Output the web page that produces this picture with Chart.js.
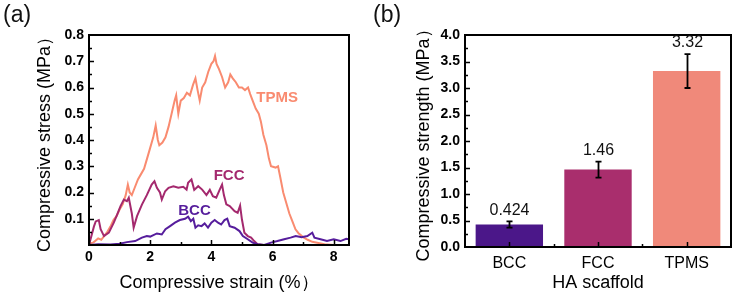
<!DOCTYPE html>
<html>
<head>
<meta charset="utf-8">
<script src="https://cdn.jsdelivr.net/npm/chart.js@4.4.1/dist/chart.umd.min.js"></script>
<style>
  body { margin: 0; background: #fff; }
  #wrap { position: relative; width: 734px; height: 295px; }
  canvas { position: absolute; top: 0; }
  .tag { position: absolute; top: 1px; font: 23px Arial, "Liberation Sans", sans-serif; color: #111; }
</style>
</head>
<body>
<div id="wrap">
  <canvas id="curves" width="367" height="295" style="left:0"></canvas>
  <canvas id="bars" width="367" height="295" style="left:367px"></canvas>
  <div class="tag" style="left:3px">(a)</div>
  <div class="tag" style="left:373px">(b)</div>
</div>
<script>
// (a) stress-strain curves
const strainTPMS = [0, 0.15, 0.3, 0.4, 0.5, 0.6, 0.7, 0.8, 0.9, 1.0, 1.1, 1.2, 1.27, 1.33, 1.4, 1.5, 1.6, 1.7, 1.8, 1.9, 2.0, 2.1, 2.18, 2.25, 2.3, 2.4, 2.5, 2.6, 2.7, 2.8, 2.85, 2.92, 3.0, 3.1, 3.2, 3.3, 3.4, 3.48, 3.55, 3.62, 3.7, 3.8, 3.9, 4.0, 4.07, 4.12, 4.17, 4.25, 4.35, 4.45, 4.55, 4.62, 4.7, 4.8, 4.9, 5.0, 5.1, 5.2, 5.27, 5.35, 5.45, 5.55, 5.62, 5.7, 5.8, 5.88, 5.95, 6.1, 6.18, 6.25, 6.35, 6.45, 6.55, 6.65, 6.75, 6.85, 7.0, 7.15, 7.3, 7.5, 7.7, 8.0, 8.5];
const stressTPMS = [0.005, 0.01, 0.025, 0.02, 0.035, 0.05, 0.07, 0.095, 0.11, 0.135, 0.155, 0.19, 0.23, 0.2, 0.19, 0.22, 0.25, 0.27, 0.29, 0.33, 0.37, 0.41, 0.455, 0.4, 0.38, 0.39, 0.41, 0.45, 0.5, 0.55, 0.57, 0.5, 0.55, 0.56, 0.58, 0.57, 0.61, 0.635, 0.59, 0.55, 0.6, 0.62, 0.66, 0.69, 0.7, 0.72, 0.69, 0.67, 0.64, 0.6, 0.62, 0.65, 0.635, 0.62, 0.6, 0.6, 0.59, 0.6, 0.575, 0.55, 0.52, 0.5, 0.47, 0.42, 0.38, 0.33, 0.3, 0.295, 0.3, 0.26, 0.2, 0.16, 0.12, 0.09, 0.06, 0.045, 0.03, 0.02, 0.012, 0.008, 0.003, 0, 0];

const strainFCC = [0, 0.16, 0.22, 0.32, 0.38, 0.49, 0.65, 0.81, 0.92, 1.03, 1.14, 1.24, 1.3, 1.4, 1.46, 1.57, 1.73, 1.89, 2.05, 2.14, 2.22, 2.32, 2.38, 2.49, 2.6, 2.76, 2.92, 3.08, 3.19, 3.24, 3.35, 3.44, 3.57, 3.7, 3.84, 3.95, 4.05, 4.16, 4.27, 4.35, 4.41, 4.49, 4.6, 4.76, 4.86, 4.94, 5.0, 5.08, 5.19, 5.3, 5.4, 5.51, 5.7];
const stressFCC = [0, 0.07, 0.09, 0.095, 0.06, 0.034, 0.047, 0.085, 0.116, 0.148, 0.173, 0.167, 0.18, 0.12, 0.066, 0.11, 0.154, 0.19, 0.23, 0.243, 0.218, 0.2, 0.173, 0.205, 0.218, 0.224, 0.218, 0.222, 0.211, 0.237, 0.25, 0.21, 0.224, 0.211, 0.19, 0.21, 0.186, 0.18, 0.21, 0.23, 0.19, 0.155, 0.148, 0.129, 0.123, 0.15, 0.097, 0.047, 0.034, 0.028, 0.015, 0.003, 0];

const strainBCC = [0, 0.3, 0.7, 1.0, 1.24, 1.51, 1.73, 1.89, 2.0, 2.22, 2.38, 2.5, 2.65, 2.81, 2.97, 3.14, 3.24, 3.33, 3.41, 3.48, 3.57, 3.68, 3.78, 3.89, 4.0, 4.11, 4.22, 4.32, 4.43, 4.52, 4.6, 4.76, 4.92, 5.03, 5.19, 5.35, 5.51, 5.73, 5.95, 6.16, 6.38, 6.59, 6.76, 6.95, 7.14, 7.3, 7.37, 7.57, 7.78, 8.0, 8.22, 8.41, 8.5];
const stressBCC = [0, 0.003, 0.002, 0.005, 0.011, 0.015, 0.028, 0.034, 0.032, 0.044, 0.04, 0.06, 0.072, 0.085, 0.095, 0.1, 0.108, 0.091, 0.1, 0.066, 0.075, 0.072, 0.082, 0.066, 0.085, 0.095, 0.085, 0.078, 0.095, 0.1, 0.072, 0.066, 0.053, 0.034, 0.022, 0.009, 0.003, 0, 0.009, 0.015, 0.022, 0.028, 0.034, 0.03, 0.034, 0.047, 0.028, 0.022, 0.015, 0.022, 0.015, 0.024, 0.022];

// (b) compressive strength per scaffold
const scaffolds = ['BCC', 'FCC', 'TPMS'];
const strength = [0.424, 1.46, 3.32];
const strengthErr = [0.06, 0.15, 0.32];
const strengthText = ['0.424', '1.46', '3.32'];

const FONT = 'Arial, "Liberation Sans", sans-serif';
const COLORS = { BCC: '#561d9c', FCC: '#a4296e', TPMS: '#f98b70' };
const BAR_COLORS = ['#4b1789', '#a92e6d', '#f0897a'];

Chart.defaults.font.family = FONT;
Chart.defaults.color = '#000';

const toPoints = (xs, ys) => xs.map((x, i) => ({ x, y: ys[i] }));

// box frame + inward major/minor ticks
const axisFrame = {
    id: 'axisFrame',
    afterDatasetsDraw(chart, args, opts) {
        const { ctx, chartArea: a, scales: { x, y } } = chart;
        ctx.save();
        ctx.strokeStyle = '#000';
        ctx.lineWidth = 1.5;
        ctx.beginPath();
        const xt = (vals, len) => vals.forEach(v => {
            const px = Math.round(x.getPixelForValue(v)) + 0.5;
            ctx.moveTo(px, a.bottom); ctx.lineTo(px, a.bottom - len);
        });
        const yt = (vals, len) => vals.forEach(v => {
            const py = Math.round(y.getPixelForValue(v)) + 0.5;
            ctx.moveTo(a.left, py); ctx.lineTo(a.left + len, py);
        });
        xt(opts.xMajor, 5); xt(opts.xMinor, 3);
        yt(opts.yMajor, 5); yt(opts.yMinor, 3);
        ctx.stroke();
        ctx.lineWidth = 2;
        ctx.strokeRect(a.left, a.top, a.right - a.left, a.bottom - a.top);
        ctx.restore();
    }
};

// series names written next to the curves
const curveLabels = {
    id: 'curveLabels',
    afterDatasetsDraw(chart, args, opts) {
        const { ctx, scales: { x, y } } = chart;
        ctx.save();
        ctx.font = 'bold 15px ' + FONT;
        ctx.textAlign = 'center';
        ctx.textBaseline = 'middle';
        opts.items.forEach(it => {
            ctx.fillStyle = it.color;
            ctx.fillText(it.text, x.getPixelForValue(it.x), y.getPixelForValue(it.y));
        });
        ctx.restore();
    }
};

// error bars and value labels on the bars
const errorBars = {
    id: 'errorBars',
    afterDatasetsDraw(chart) {
        const { ctx, scales: { x, y } } = chart;
        ctx.save();
        ctx.strokeStyle = '#000';
        ctx.fillStyle = '#111';
        ctx.lineWidth = 1.8;
        ctx.font = '16px ' + FONT;
        ctx.textAlign = 'center';
        ctx.textBaseline = 'bottom';
        strength.forEach((v, i) => {
            const cx = Math.round(x.getPixelForValue(i)) + 0.5;
            const top = y.getPixelForValue(v + strengthErr[i]);
            const bot = y.getPixelForValue(v - strengthErr[i]);
            ctx.beginPath();
            ctx.moveTo(cx, top); ctx.lineTo(cx, bot);
            ctx.moveTo(cx - 3, top); ctx.lineTo(cx + 3, top);
            ctx.moveTo(cx - 3, bot); ctx.lineTo(cx + 3, bot);
            ctx.stroke();
            ctx.fillText(strengthText[i], cx, top - 3);
        });
        ctx.restore();
    }
};

new Chart(document.getElementById('curves'), {
    type: 'line',
    data: {
        datasets: [
            { label: 'BCC', data: toPoints(strainBCC, stressBCC), borderColor: COLORS.BCC },
            { label: 'FCC', data: toPoints(strainFCC, stressFCC), borderColor: COLORS.FCC },
            { label: 'TPMS', data: toPoints(strainTPMS, stressTPMS), borderColor: COLORS.TPMS }
        ]
    },
    options: {
        responsive: false,
        animation: false,
        datasets: { line: { borderWidth: 2, pointRadius: 0, tension: 0, fill: false } },
        layout: { padding: { left: 0, right: 18, top: 35, bottom: 0 } },
        plugins: {
            legend: { display: false },
            tooltip: { enabled: false },
            axisFrame: {
                xMajor: [0, 2, 4, 6, 8], xMinor: [1, 3, 5, 7],
                yMajor: [0.1, 0.2, 0.3, 0.4, 0.5, 0.6, 0.7],
                yMinor: [0.05, 0.15, 0.25, 0.35, 0.45, 0.55, 0.65, 0.75]
            },
            curveLabels: {
                items: [
                    { text: 'TPMS', x: 6.15, y: 0.56, color: COLORS.TPMS },
                    { text: 'FCC', x: 4.58, y: 0.265, color: COLORS.FCC },
                    { text: 'BCC', x: 3.45, y: 0.13, color: COLORS.BCC }
                ]
            }
        },
        scales: {
            x: {
                type: 'linear',
                min: 0,
                max: 8.5,
                grid: { display: false, drawTicks: false },
                border: { display: false },
                ticks: { stepSize: 2, includeBounds: false, padding: 4, font: { size: 14, weight: 'bold' } },
                title: { display: true, text: 'Compressive strain (%）', font: { size: 18 }, padding: { top: 0, bottom: 1 } },
                afterFit: s => { s.height = 50; }
            },
            y: {
                min: 0,
                max: 0.8,
                grid: { display: false, drawTicks: false },
                border: { display: false },
                ticks: {
                    stepSize: 0.1,
                    padding: 5,
                    font: { size: 14, weight: 'bold' },
                    callback: v => (v === 0 ? '' : v.toFixed(1))
                },
                title: { display: true, text: 'Compressive stress (MPa）', font: { size: 18 }, padding: { top: 34, bottom: 0 } },
                afterFit: s => { s.width = 89; }
            }
        }
    },
    plugins: [axisFrame, curveLabels]
});

new Chart(document.getElementById('bars'), {
    type: 'bar',
    data: {
        labels: scaffolds,
        datasets: [{
            data: strength,
            backgroundColor: BAR_COLORS,
            barPercentage: 0.76,
            categoryPercentage: 1.0
        }]
    },
    options: {
        responsive: false,
        animation: false,
        layout: { padding: { left: 0, right: 3, top: 35, bottom: 0 } },
        plugins: {
            legend: { display: false },
            tooltip: { enabled: false },
            axisFrame: {
                xMajor: [0, 1, 2], xMinor: [0.5, 1.5],
                yMajor: [0.5, 1, 1.5, 2, 2.5, 3, 3.5],
                yMinor: [0.25, 0.75, 1.25, 1.75, 2.25, 2.75, 3.25, 3.75]
            }
        },
        scales: {
            x: {
                grid: { display: false, drawTicks: false },
                border: { display: false },
                ticks: { padding: 7, font: { size: 16 } },
                title: { display: true, text: 'HA scaffold', font: { size: 18 }, padding: { top: 0, bottom: 1 } },
                afterFit: s => { s.height = 48; }
            },
            y: {
                min: 0,
                max: 4,
                grid: { display: false, drawTicks: false },
                border: { display: false },
                ticks: {
                    stepSize: 0.5,
                    padding: 5,
                    font: { size: 14, weight: 'bold' },
                    callback: v => v.toFixed(1)
                },
                title: { display: true, text: 'Compressive strength (MPa）', font: { size: 18 }, padding: { top: 46, bottom: 0 } },
                afterFit: s => { s.width = 98; }
            }
        }
    },
    plugins: [axisFrame, errorBars]
});
</script>
</body>
</html>
